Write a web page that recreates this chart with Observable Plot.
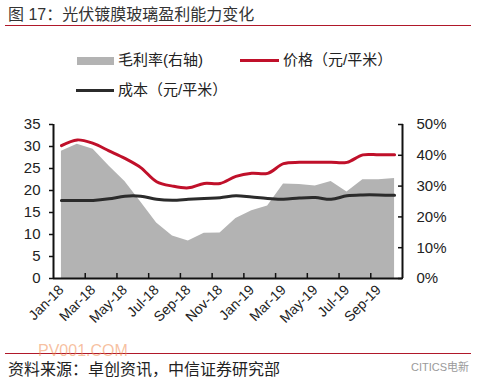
<!DOCTYPE html>
<html><head><meta charset="utf-8">
<script src="https://cdn.jsdelivr.net/npm/d3@7"></script>
<script src="https://cdn.jsdelivr.net/npm/@observablehq/plot@0.6"></script>
<style>
body{margin:0;background:#fff;}
#root{position:relative;width:480px;height:386px;overflow:hidden;font-family:"Liberation Sans",Arial,"Noto Sans CJK SC",sans-serif;color:#222;}
.abs{position:absolute;white-space:nowrap;}
#chart{position:absolute;left:0;top:110px;}
</style></head><body><div id="root">
<div class="abs" style="left:8px;top:6px;font-size:16px;line-height:18px;color:#333;">图 17：光伏镀膜玻璃盈利能力变化</div>
<div class="abs" style="left:5px;top:25px;width:466px;height:1px;background:#b0182a;"></div>
<div class="abs" style="left:77px;top:57px;width:37px;height:8px;background:#b3b3b3;"></div>
<div class="abs" style="left:118px;top:50px;font-size:15px;line-height:20px;">毛利率(右轴)</div>
<div class="abs" style="left:240px;top:59px;width:39px;height:3px;background:#c0102a;"></div>
<div class="abs" style="left:283px;top:50px;font-size:15px;line-height:20px;">价格（元/平米）</div>
<div class="abs" style="left:76px;top:89px;width:38px;height:3px;background:#2b2b2b;"></div>
<div class="abs" style="left:118px;top:80px;font-size:15px;line-height:20px;">成本（元/平米）</div>
<div id="chart"></div>
<div class="abs" style="left:5px;top:353px;width:466px;height:1px;background:#b0182a;"></div>
<div class="abs" style="left:38px;top:343px;font-size:16px;line-height:16px;color:rgba(240,140,80,0.55);">PV001.COM</div>
<div class="abs" style="left:8px;top:361px;font-size:16px;line-height:18px;color:#222;">资料来源：卓创资讯，中信证券研究部</div>
<div class="abs" style="left:411px;top:360px;font-size:11px;line-height:14px;color:#9a9a9a;">CITICS电新</div>
</div>
<script>
const months = ["Jan-18","Feb-18","Mar-18","Apr-18","May-18","Jun-18","Jul-18","Aug-18","Sep-18","Oct-18","Nov-18","Dec-18","Jan-19","Feb-19","Mar-19","Apr-19","May-19","Jun-19","Jul-19","Aug-19","Sep-19","Oct-19"];
const price = [30.2,31.5,30.7,29.0,27.3,25.2,22.0,21.0,20.6,21.6,21.6,23.2,23.9,23.9,26.1,26.4,26.4,26.4,26.4,28.1,28.1,28.1];
const cost = [17.75,17.75,17.75,18.1,18.7,18.7,18.0,17.8,18.0,18.2,18.35,18.8,18.5,18.2,18.0,18.3,18.4,18.0,18.8,19.0,19.0,18.9];
const margin = [41.3,43.6,42.0,36.5,31.5,24.8,18.0,13.8,12.2,14.7,14.8,19.5,22.0,23.5,30.7,30.5,30.0,31.5,28.1,32.1,32.1,32.5];
const leftTicks = [0,5,10,15,20,25,30,35];
const rightTicks = [0,10,20,30,40,50];

const rows = months.map((m, i) => ({i, month: m, price: price[i], cost: cost[i], margin: margin[i]}));
const leftMax = leftTicks[leftTicks.length - 1];
const rightMax = rightTicks[rightTicks.length - 1];
const k = leftMax / rightMax;
const labelIdx = months.map((_, i) => i).filter(i => i % 2 === 0);
const bounds = months.map((_, i) => i + 0.5).filter((b, j) => j % 2 === 1 && b < months.length - 1);

const chart = Plot.plot({
  width: 480,
  height: 235,
  marginLeft: 53,
  marginRight: 78,
  marginTop: 14,
  marginBottom: 67,
  style: {fontFamily: '"Liberation Sans", Arial, sans-serif', fontSize: "15px", color: "#222", background: "transparent"},
  x: {type: "linear", domain: [-0.5, months.length - 0.5], axis: null},
  y: {domain: [0, leftMax], axis: null},
  marks: [
    Plot.areaY(rows, {x: "i", y: d => d.margin * k, fill: "#b3b3b3", curve: "linear"}),
    Plot.lineY(rows, {x: "i", y: "price", stroke: "#c0102a", strokeWidth: 3, curve: "catmull-rom"}),
    Plot.lineY(rows, {x: "i", y: "cost", stroke: "#2b2b2b", strokeWidth: 3, curve: "catmull-rom"}),
    Plot.axisY(leftTicks, {anchor: "left", label: null, tickSize: 4, tickPadding: 9, strokeWidth: 1.5, stroke: "#111", fontSize: 15, fill: "#222"}),
    Plot.axisY(rightTicks.map(v => v * k), {anchor: "right", label: null, tickSize: -5, tickPadding: 19, strokeWidth: 1.5, stroke: "#111", fontSize: 15, fill: "#222", tickFormat: v => Math.round(v / k) + "%"}),
    Plot.axisX(labelIdx, {anchor: "bottom", label: null, tickSize: 0, tickPadding: 9, tickRotate: -45, fontSize: 14, fill: "#222", tickFormat: i => months[i]}),
    Plot.axisX(bounds, {anchor: "bottom", label: null, tickSize: -5, strokeWidth: 1.5, stroke: "#111", tickFormat: () => ""}),
    Plot.ruleX([-0.5, months.length - 0.5], {stroke: "#111", strokeWidth: 2}),
    Plot.ruleY([0], {stroke: "#111", strokeWidth: 2})
  ]
});
document.getElementById("chart").appendChild(chart);
</script>
</body></html>
